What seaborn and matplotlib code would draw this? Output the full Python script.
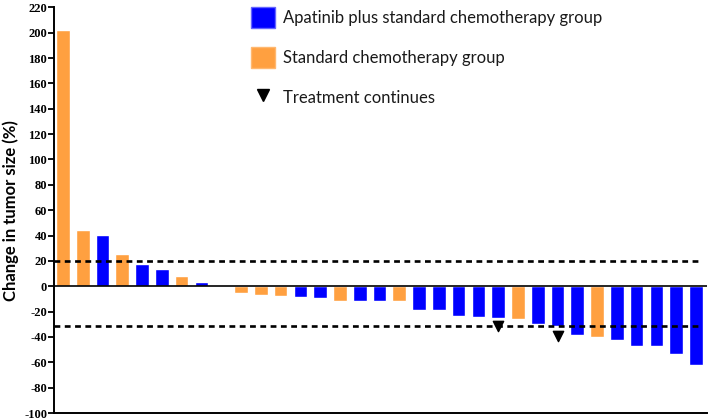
import numpy as np
import pandas as pd
import matplotlib
matplotlib.use("Agg")
import matplotlib.pyplot as plt
import seaborn as sns
from matplotlib.patches import Patch
from matplotlib.lines import Line2D

# --- DATA ---
change = [202, 44.4, 40.6, 25.8, 17.4, 13.6, 8.1, 3.5, 0,
          -5.0, -6.6, -7.9, -8.4, -8.9, -11.3, -11.6, -11.8, -11.8,
          -18.8, -18.8, -23.3, -24.6, -25.4, -25.6, -29.8, -31.2,
          -38.5, -39.8, -42.2, -46.9, -46.9, -53.8, -62.0]
group = ["S", "S", "A", "S", "A", "A", "S", "A", "A",
         "S", "S", "S", "A", "A", "S", "A", "A", "S",
         "A", "A", "A", "A", "A", "S", "A", "A",
         "A", "S", "A", "A", "A", "A", "A"]
group_names = {"A": "Apatinib plus standard chemotherapy group",
               "S": "Standard chemotherapy group"}
continues_idx = [22, 25]
continues_y = [-31, -39]
ref_lines = [20, -31]
yticks = list(range(-100, 221, 20))

df = pd.DataFrame({
    "patient": [str(i) for i in range(len(change))],
    "change": change,
    "group": [group_names[g] for g in group],
})

palette = {group_names["A"]: "#0000FF", group_names["S"]: "#FFA040"}

sns.set_style("white", rc={"text.color": "black", "axes.labelcolor": "black",
                           "ytick.color": "black", "xtick.color": "black",
                           "axes.edgecolor": "black"})
fig = plt.figure(figsize=(7.09, 4.19), dpi=100)
ax = fig.add_axes([0.0762, 0.0143, 0.9208, 0.9683])

sns.barplot(data=df, x="patient", y="change", hue="group", palette=palette,
            order=df["patient"].tolist(), dodge=False, width=0.69,
            legend=False, ax=ax, saturation=1)

# zero line and reference lines
ax.axhline(0, color="black", lw=1.2, xmin=0, xmax=1)
for y in ref_lines:
    ax.axhline(y, color="black", lw=1.9, linestyle=(0, (2.2, 1.7)), xmax=0.99)

ax.scatter(continues_idx, continues_y, marker="v", s=55, color="black", zorder=5)

ax.set_xlim(-0.45, 32.55)
ax.set_ylim(-100, 220)
ax.set_yticks(yticks)
ax.set_yticklabels([str(t) for t in yticks],
                   fontdict={"family": "Liberation Serif", "weight": "bold",
                             "size": 9, "color": "black"})
ax.set_xticks([])
ax.set_xlabel("")
ax.set_ylabel("Change in tumor size (%)", fontsize=12, fontweight="bold",
              family="Lato", labelpad=4, color="black")
ax.tick_params(axis="y", direction="out", length=4, width=1.3, pad=1, left=True,
               color="black")

sns.despine(ax=ax, top=True, right=True)
for s in ["left", "bottom"]:
    ax.spines[s].set_linewidth(1.4)
    ax.spines[s].set_color("black")

handles = [Patch(facecolor=palette[group_names["A"]], edgecolor="#6666ff"),
           Patch(facecolor=palette[group_names["S"]], edgecolor="#ffb870"),
           Line2D([], [], marker="v", color="black", linestyle="none", markersize=8)]
labels = [group_names["A"], group_names["S"], "Treatment continues"]
fig.legend(handles, labels, loc="upper left", bbox_to_anchor=(0.345, 1.0),
           frameon=False, prop={"family": "Lato", "size": 12},
           handlelength=1.45, handleheight=1.55, handletextpad=0.45,
           labelspacing=1.15, borderaxespad=0, labelcolor="#1a1a1a")

fig.savefig("out.png", dpi=100)
